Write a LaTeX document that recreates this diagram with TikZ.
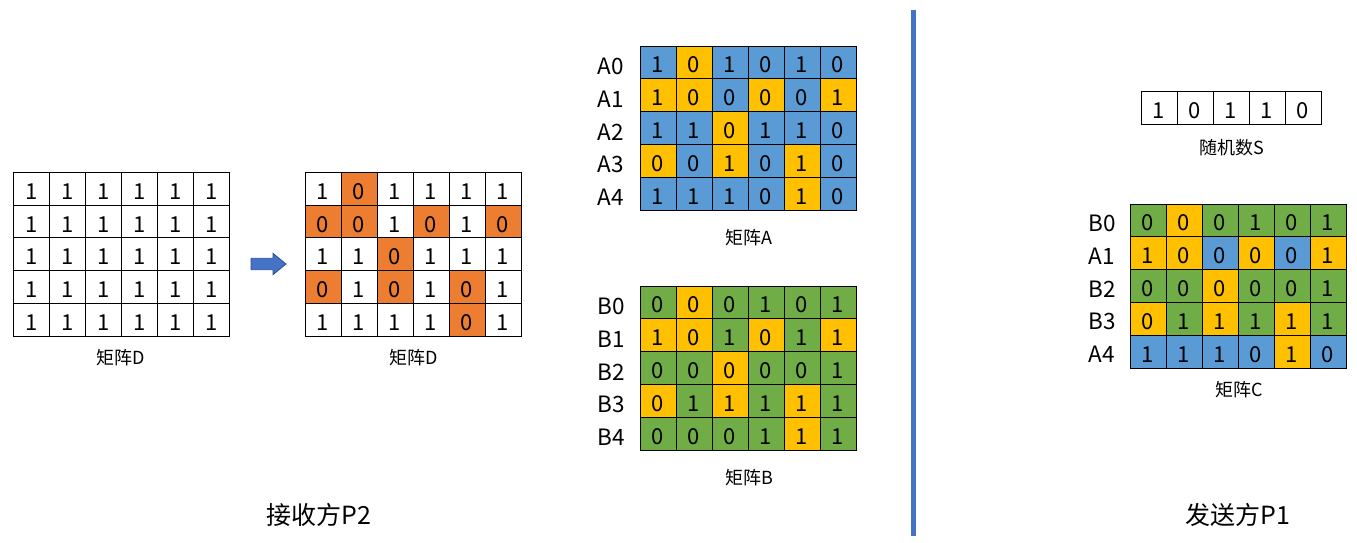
\documentclass[tikz,border=0pt]{standalone}
\usepackage{fontspec}
\setmainfont{Noto Sans CJK SC}
\definecolor{cB}{HTML}{5B9BD5}
\definecolor{cY}{HTML}{FFC000}
\definecolor{cG}{HTML}{70AD47}
\definecolor{cO}{HTML}{ED7D31}
\definecolor{cW}{HTML}{FFFFFF}
\definecolor{sepblue}{HTML}{4472C4}
\definecolor{arrline}{HTML}{2F528F}
\tikzset{
  cell/.style={draw=black, line width=0.9pt, minimum width=36pt, minimum height=32.8pt,
    inner sep=0pt, text height=21pt, text depth=0pt, font=\fontsize{22}{22}\selectfont, text=black},
  rowlab/.style={font=\fontsize{22.5}{22.5}\selectfont, inner sep=0pt},
  caption/.style={font=\fontsize{18}{18}\selectfont, inner sep=0pt},
  bigtitle/.style={font=\fontsize{25}{25}\selectfont, inner sep=0pt},
  arrowshape/.style={draw=arrline, fill=sepblue, line width=0.8pt, line join=miter}
}
\newcommand\mymat[4]{%
  \foreach \rowlist [count=\ri from 0] in {#4} {
    \foreach \v/\c [count=\ci from 0] in \rowlist {
      \node[cell, fill=\c] (#1-\ri-\ci) at ({#2+(\ci+0.5)*36}, {#3+(\ri+0.5)*32.8}) {\v};
    }
  }%
}
\begin{document}
\begin{tikzpicture}[x=1pt,y=-1pt]
\useasboundingbox (0,0) rectangle (1357,542);
\fill[white] (0,0) rectangle (1357,542);

% Matrix D (left)
\mymat{D1}{13.3}{172.3}{{1/cW,1/cW,1/cW,1/cW,1/cW,1/cW},{1/cW,1/cW,1/cW,1/cW,1/cW,1/cW},{1/cW,1/cW,1/cW,1/cW,1/cW,1/cW},{1/cW,1/cW,1/cW,1/cW,1/cW,1/cW},{1/cW,1/cW,1/cW,1/cW,1/cW,1/cW}}
\node[caption] (capD1) at (121,358) {矩阵D};

% arrow
\draw[arrowshape] (251,258.3) -- (273,258.3) -- (273,253.3) -- (286,264) -- (273,274.7) -- (273,269.7) -- (251,269.7) -- cycle;

% Matrix D (right)
\mymat{D2}{305}{172.3}{{1/cW,0/cO,1/cW,1/cW,1/cW,1/cW},{0/cO,0/cO,1/cW,0/cO,1/cW,0/cO},{1/cW,1/cW,0/cO,1/cW,1/cW,1/cW},{0/cO,1/cW,0/cO,1/cW,0/cO,1/cW},{1/cW,1/cW,1/cW,1/cW,0/cO,1/cW}}
\node[caption] (capD2) at (414,358) {矩阵D};

% Matrix A
\mymat{A}{640}{46}{{1/cB,0/cY,1/cB,0/cB,1/cB,0/cB},{1/cY,0/cY,0/cB,0/cY,0/cB,1/cY},{1/cB,1/cB,0/cY,1/cB,1/cB,0/cB},{0/cY,0/cB,1/cY,0/cB,1/cY,0/cB},{1/cB,1/cB,1/cB,0/cB,1/cY,0/cB}}
\foreach \lab [count=\ri from 0] in {A0,A1,A2,A3,A4}
  \node[rowlab] (Alab\ri) at (611,{50+(\ri+0.5)*32.8}) {\lab};
\node[caption] (capA) at (749,238) {矩阵A};

% Matrix B
\mymat{B}{640}{286}{{0/cG,0/cY,0/cG,1/cG,0/cG,1/cG},{1/cY,0/cY,1/cG,0/cY,1/cG,1/cY},{0/cG,0/cG,0/cY,0/cG,0/cG,1/cG},{0/cY,1/cG,1/cY,1/cG,1/cY,1/cG},{0/cG,0/cG,0/cG,1/cG,1/cY,1/cG}}
\foreach \lab [count=\ri from 0] in {B0,B1,B2,B3,B4}
  \node[rowlab] (Blab\ri) at (611,{290+(\ri+0.5)*32.8}) {\lab};
\node[caption] (capB) at (749,478) {矩阵B};

% separator
\coordinate (septop) at (913.5,10);
\coordinate (sepbot) at (913.5,536);
\draw[sepblue, line width=5pt] (septop) -- (sepbot);

% random S
\mymat{S}{1141}{91.7}{{1/cW,0/cW,1/cW,1/cW,0/cW}}
\node[caption] (capS) at (1232,148) {随机数S};

% Matrix C
\mymat{C}{1130}{204}{{0/cG,0/cY,0/cG,1/cG,0/cG,1/cG},{1/cY,0/cY,0/cB,0/cY,0/cB,1/cY},{0/cG,0/cG,0/cY,0/cG,0/cG,1/cG},{0/cY,1/cG,1/cY,1/cG,1/cY,1/cG},{1/cB,1/cB,1/cB,0/cB,1/cY,0/cB}}
\foreach \lab [count=\ri from 0] in {B0,A1,B2,B3,A4}
  \node[rowlab] (Clab\ri) at (1102,{207+(\ri+0.5)*32.8}) {\lab};
\node[caption] (capC) at (1239,390) {矩阵C};

% titles
\node[bigtitle] (recv) at (319,515) {接收方P2};
\node[bigtitle] (send) at (1238,515) {发送方P1};
\end{tikzpicture}
\end{document}
